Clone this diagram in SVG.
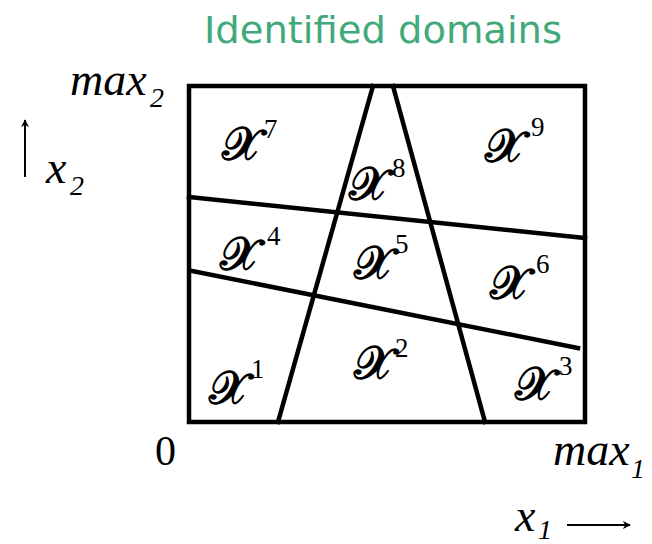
<svg xmlns="http://www.w3.org/2000/svg" width="652" height="544" viewBox="0 0 652 544">
<style>
.t{font-family:'Liberation Serif',serif;font-style:italic;fill:#000}
.X{font-family:"Noto Sans","DejaVu Serif","Liberation Serif",serif;font-size:46px;stroke:#000;stroke-width:1.3}
.sup{font-family:'Liberation Serif',serif;font-size:27px}
.ln{stroke:#000;stroke-width:4.5;fill:none;stroke-linecap:square}
</style>
<defs>
<marker id="ah" viewBox="0 0 10 10" refX="9" refY="5" markerWidth="8" markerHeight="8" markerUnits="userSpaceOnUse" orient="auto"><path d="M0,0 L10,5 L0,10 L3,5 z" fill="#000"/></marker>
</defs>
<text x="383" y="43" text-anchor="middle" font-family="'DejaVu Sans',Verdana,sans-serif" font-size="38" fill="#41a97a" textLength="358" lengthAdjust="spacingAndGlyphs">Identified domains</text>
<g id="connectors">
<rect x="189" y="86" width="396" height="336" class="ln" stroke-linejoin="miter"/>
<line x1="373" y1="86" x2="278" y2="422" class="ln"/>
<line x1="393" y1="86" x2="485" y2="422" class="ln"/>
<line x1="189" y1="197" x2="585" y2="238" class="ln"/>
<line x1="192" y1="271" x2="578" y2="348" class="ln"/>
<line x1="25" y1="177" x2="25" y2="120" stroke="#000" stroke-width="2" marker-end="url(#ah)"/>
<line x1="567" y1="525" x2="630" y2="525" stroke="#000" stroke-width="2" marker-end="url(#ah)"/>
</g>
<g id="axis-labels">
<text class="t" x="70" y="95" font-size="46">max</text><text class="t" x="150" y="107" font-size="28">2</text>
<text class="t" x="46" y="183" font-size="46">x</text><text class="t" x="70" y="195" font-size="28">2</text>
<text x="155" y="465" font-size="42" font-family="'Liberation Serif',serif">0</text>
<text class="t" x="553" y="465" font-size="46">max</text><text class="t" x="631" y="478" font-size="28">1</text>
<text class="t" x="515" y="531" font-size="46">x</text><text class="t" x="538" y="539" font-size="28">1</text>
</g>
<g id="d7"><text class="X" x="222" y="160">𝒳</text><text class="sup" x="264" y="138">7</text></g>
<g id="d8"><text class="X" x="349" y="200">𝒳</text><text class="sup" x="392" y="177">8</text></g>
<g id="d9"><text class="X" x="485" y="162">𝒳</text><text class="sup" x="531" y="136">9</text></g>
<g id="d4"><text class="X" x="220" y="270">𝒳</text><text class="sup" x="267" y="245">4</text></g>
<g id="d5"><text class="X" x="354" y="279">𝒳</text><text class="sup" x="395" y="253">5</text></g>
<g id="d6"><text class="X" x="490" y="299">𝒳</text><text class="sup" x="536" y="273">6</text></g>
<g id="d1"><text class="X" x="209" y="404">𝒳</text><text class="sup" x="251" y="378">1</text></g>
<g id="d2"><text class="X" x="354" y="379">𝒳</text><text class="sup" x="395" y="357">2</text></g>
<g id="d3"><text class="X" x="515" y="400">𝒳</text><text class="sup" x="559" y="375">3</text></g>
</svg>
